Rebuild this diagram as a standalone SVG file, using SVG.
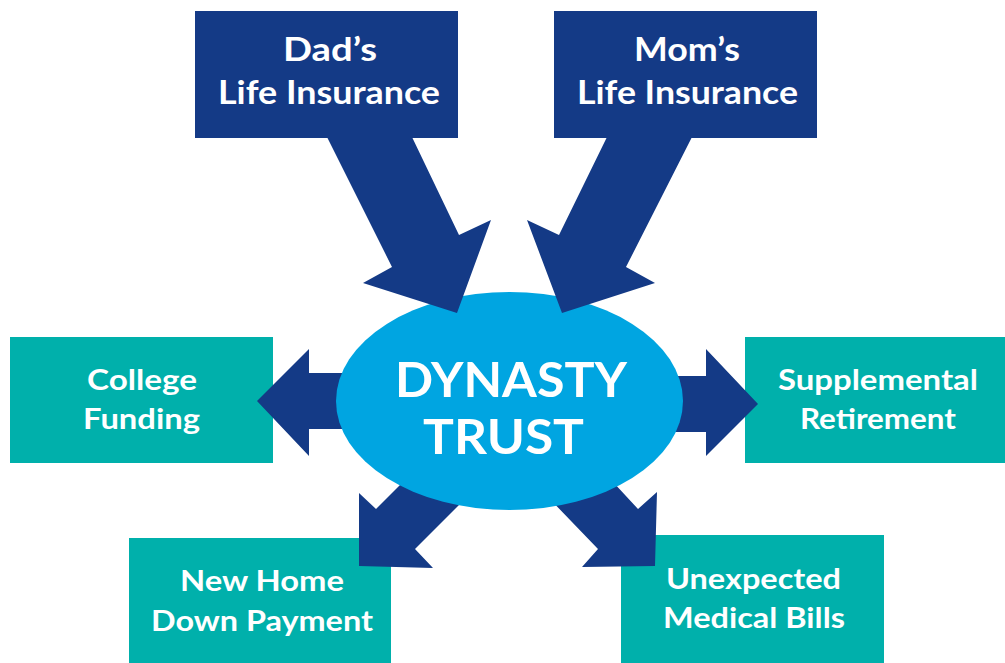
<svg xmlns="http://www.w3.org/2000/svg" width="1005" height="663" viewBox="0 0 1005 663">
  <style>
    .navy { fill: #143a86; }
    .teal { fill: #00b0ab; }
    .hub { fill: #00a5e1; }
    .lbl { font-family: Lato, "Open Sans", "Liberation Sans", sans-serif; font-weight: 700; fill: #ffffff; text-anchor: middle; }
    .src { font-size: 33px; }
    .dst { font-size: 29px; }
    .big { font-size: 48px; }
  </style>
  <rect width="1005" height="663" fill="#ffffff"/>

  <!-- outcome boxes -->
  <g id="college">
    <rect class="teal" x="10" y="337" width="263" height="126"/>
    <text class="lbl dst" x="142" y="390" textLength="110" lengthAdjust="spacingAndGlyphs">College</text>
    <text class="lbl dst" x="141.5" y="429" textLength="117" lengthAdjust="spacingAndGlyphs">Funding</text>
  </g>
  <g id="retirement">
    <rect class="teal" x="745" y="337" width="260" height="126"/>
    <text class="lbl dst" x="878" y="390" textLength="200" lengthAdjust="spacingAndGlyphs">Supplemental</text>
    <text class="lbl dst" x="878" y="429" textLength="156" lengthAdjust="spacingAndGlyphs">Retirement</text>
  </g>
  <g id="home">
    <rect class="teal" x="129" y="538" width="262" height="125"/>
    <text class="lbl dst" x="262" y="591" textLength="164" lengthAdjust="spacingAndGlyphs">New Home</text>
    <text class="lbl dst" x="262" y="631" textLength="222" lengthAdjust="spacingAndGlyphs">Down Payment</text>
  </g>
  <g id="medical">
    <rect class="teal" x="621" y="535" width="263" height="128"/>
    <text class="lbl dst" x="753.5" y="589" textLength="175" lengthAdjust="spacingAndGlyphs">Unexpected</text>
    <text class="lbl dst" x="754" y="628" textLength="182" lengthAdjust="spacingAndGlyphs">Medical Bills</text>
  </g>

  <!-- outgoing arrows, tucked under the trust ellipse -->
  <g id="connectors-out">
    <polygon class="navy" points="380,373 309,373 309,349 257,401 309,456 309,429 380,429"/>
    <polygon class="navy" points="640,376 706,376 706,349 758,404 706,456 706,432 640,432"/>
    <polygon class="navy" points="430,455 376,509 359,493 359,566 433,568 415,549 470,494"/>
    <polygon class="navy" points="588,455 638,509 657,492 655,566 582,567 598,549 545,494"/>
  </g>

  <!-- central trust -->
  <g id="trust">
    <ellipse class="hub" cx="509.5" cy="401" rx="173.5" ry="109"/>
    <text class="lbl big" x="511" y="397" textLength="232" lengthAdjust="spacingAndGlyphs">DYNASTY</text>
    <text class="lbl big" x="503.5" y="454" textLength="161" lengthAdjust="spacingAndGlyphs">TRUST</text>
  </g>

  <!-- incoming arrows from the insurance sources -->
  <g id="connectors-in">
    <polygon class="navy" points="327,137 412,137 459,235 491,220 457,313 363,283 392,267"/>
    <polygon class="navy" points="607,137 692,137 626,267 655,283 562,313 527,220 559,235"/>
  </g>

  <g id="dad">
    <rect class="navy" x="195" y="11" width="263" height="127"/>
    <text class="lbl src" x="330" y="61" textLength="94" lengthAdjust="spacingAndGlyphs">Dad’s</text>
    <text class="lbl src" x="329" y="104" textLength="222" lengthAdjust="spacingAndGlyphs">Life Insurance</text>
  </g>
  <g id="mom">
    <rect class="navy" x="554" y="11" width="263" height="127"/>
    <text class="lbl src" x="687" y="61" textLength="106" lengthAdjust="spacingAndGlyphs">Mom’s</text>
    <text class="lbl src" x="687.5" y="104" textLength="221" lengthAdjust="spacingAndGlyphs">Life Insurance</text>
  </g>
</svg>
